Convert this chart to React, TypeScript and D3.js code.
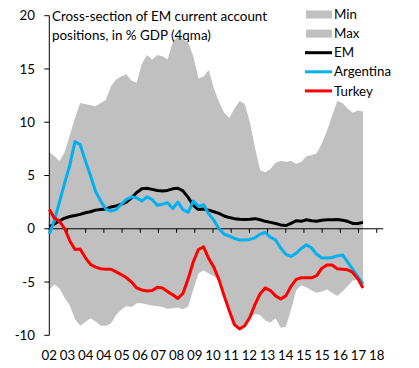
import React, { Component } from 'react';
import * as d3 from 'd3';

// Cross-section of EM current account positions (quarterly, 2002 - 2017)

const tickLabels = ["02","03","04","04","05","06","07","08","09","10","11","12","13","14","15","15","16","17","18"];

const maxV = [7.2,6.8,6.35,7.2,8.8,10.4,11.8,11.7,11.6,11.5,
  11.8,12.1,13.4,14.0,14.3,14.5,13.9,13.7,15.5,16.3,
  15.9,16.3,16.2,15.9,17.5,18.1,17.8,17.5,16.2,14.1,
  14.3,14.9,13.2,11.9,10.9,10.4,11.3,12.0,11.7,10.0,
  7.6,5.5,5.3,5.6,6.2,6.35,6.3,6.35,6.1,6.3,
  6.8,6.9,7.1,8.0,9.2,10.6,12.0,11.8,11.3,10.9,
  11.1,11.0];

const minV = [-5.7,-5.2,-5.6,-6.5,-7.2,-8.5,-9.1,-8.75,-8.4,-8.7,
  -9.1,-9.1,-8.9,-8.1,-7.6,-7.25,-7.35,-7.0,-7.0,-7.1,
  -7.2,-7.25,-7.35,-7.5,-7.45,-7.4,-7.55,-7.3,-5.7,-4.2,
  -3.9,-4.2,-4.45,-4.85,-6.3,-7.7,-9.0,-9.4,-9.1,-8.3,
  -8.0,-8.1,-8.6,-8.8,-8.4,-9.3,-9.2,-7.6,-5.8,-5.3,
  -5.5,-5.8,-6.0,-5.9,-5.7,-6.0,-6.3,-5.9,-5.4,-4.85,
  -4.8,-5.55];

const em = [0.2,0.45,0.75,1.0,1.15,1.25,1.35,1.5,1.6,1.75,
  1.8,1.85,2.05,2.15,2.3,2.5,2.9,3.4,3.75,3.8,
  3.7,3.6,3.55,3.6,3.75,3.8,3.55,2.95,2.2,1.8,
  1.85,1.75,1.6,1.45,1.2,1.05,0.95,0.9,0.87,0.9,
  0.95,0.85,0.7,0.6,0.5,0.35,0.3,0.5,0.75,0.7,
  0.85,0.75,0.7,0.8,0.85,0.85,0.87,0.8,0.7,0.5,
  0.5,0.6];

const argentina = [-0.5,0.8,2.55,4.3,6.0,8.2,7.9,6.4,5.0,3.5,
  2.6,1.85,1.65,1.8,2.3,2.75,3.0,2.9,2.6,3.0,
  2.75,2.2,2.3,2.45,1.9,2.5,1.8,1.55,2.6,2.1,
  2.25,1.4,0.8,0.0,-0.5,-0.7,-0.9,-1.05,-1.05,-1.0,
  -0.85,-0.5,-0.35,-0.8,-1.05,-1.8,-2.4,-2.6,-2.3,-1.85,
  -1.5,-1.8,-2.4,-2.75,-2.75,-2.7,-2.55,-2.45,-3.1,-3.8,
  -4.5,-5.2];

const turkey = [1.8,1.0,0.7,0.0,-1.15,-1.95,-1.9,-2.7,-3.35,-3.6,
  -3.75,-3.8,-3.8,-4.05,-4.3,-4.6,-5.0,-5.55,-5.75,-5.85,
  -5.8,-5.5,-5.55,-5.9,-6.2,-6.55,-6.05,-4.7,-3.1,-1.95,
  -1.7,-2.8,-3.6,-4.8,-6.3,-7.7,-9.0,-9.4,-9.1,-8.3,
  -7.1,-6.1,-5.55,-5.8,-6.3,-6.6,-6.3,-5.4,-4.75,-4.6,
  -4.6,-4.6,-4.4,-3.7,-3.4,-3.4,-3.75,-3.8,-3.85,-4.1,
  -4.7,-5.55];

const yTicks = [-10, -5, 0, 5, 10, 15, 20];

const FONT = "Lato, 'Open Sans', sans-serif";

class App extends Component {
  svgRef = React.createRef<SVGSVGElement>();

  componentDidMount() {
    const svg = d3.select(this.svgRef.current);
    svg.selectAll('*').remove();

    const left = 49.3, axisEnd = 383.3;

    const y = d3.scaleLinear().domain([-10, 20]).range([335.3, 15.7]);
    // label positions along the bottom
    const xTick = d3.scaleLinear().domain([0, tickLabels.length - 1]).range([left, 376.7]);
    // quarterly data positions
    const x = d3.scaleLinear().domain([0, maxV.length - 1]).range([left, 363]);

    const band = maxV.map((mx, i) => ({ i, mx, mn: minV[i] }));

    svg.append('path')
      .datum(band)
      .attr('fill', '#c0c0c0')
      .attr('d', d3.area<any>()
        .x(d => x(d.i))
        .y0(d => y(d.mn))
        .y1(d => y(d.mx)));

    // y axis
    svg.append('line')
      .attr('x1', left).attr('x2', left)
      .attr('y1', y(20)).attr('y2', y(-10))
      .attr('stroke', '#000').attr('stroke-width', 1);

    svg.selectAll('.ytick').data(yTicks).join('line')
      .attr('class', 'ytick')
      .attr('x1', left - 5).attr('x2', left)
      .attr('y1', d => y(d)).attr('y2', d => y(d))
      .attr('stroke', '#000');

    svg.selectAll('.ylab').data(yTicks).join('text')
      .attr('class', 'ylab')
      .attr('x', 35).attr('y', d => y(d))
      .attr('dy', '0.35em')
      .attr('text-anchor', 'end')
      .attr('font-family', FONT).attr('font-size', 13.3)
      .text(d => d);

    // x axis at zero
    svg.append('line')
      .attr('x1', left).attr('x2', axisEnd)
      .attr('y1', y(0)).attr('y2', y(0))
      .attr('stroke', '#000');

    svg.selectAll('.xtick').data(tickLabels).join('line')
      .attr('class', 'xtick')
      .attr('x1', (d, i) => xTick(i)).attr('x2', (d, i) => xTick(i))
      .attr('y1', y(0)).attr('y2', y(0) + 4)
      .attr('stroke', '#000');

    svg.selectAll('.xlab').data(tickLabels).join('text')
      .attr('class', 'xlab')
      .attr('x', (d, i) => xTick(i)).attr('y', 355)
      .attr('dy', '0.35em')
      .attr('text-anchor', 'middle')
      .attr('font-family', FONT).attr('font-size', 13.3)
      .text(d => d);

    const series = [
      { name: 'EM', values: em, color: '#000000' },
      { name: 'Argentina', values: argentina, color: '#00b0f0' },
      { name: 'Turkey', values: turkey, color: '#ff0000' },
    ];

    const line = d3.line<number>().x((d, i) => x(i)).y(d => y(d));

    series.forEach(s => {
      svg.append('path')
        .datum(s.values)
        .attr('fill', 'none')
        .attr('stroke', s.color)
        .attr('stroke-width', 3)
        .attr('stroke-linejoin', 'round')
        .attr('d', line);
    });

    // title
    const title = svg.append('text')
      .attr('font-family', FONT).attr('font-size', 13.4);
    title.append('tspan').attr('x', 52).attr('y', 21).text('Cross-section of EM current account');
    title.append('tspan').attr('x', 52).attr('y', 39.5).text('positions, in % GDP (4qma)');

    // legend
    const legend = [
      { name: 'Min', type: 'box', color: '#c0c0c0' },
      { name: 'Max', type: 'box', color: '#c0c0c0' },
      { name: 'EM', type: 'line', color: '#000000' },
      { name: 'Argentina', type: 'line', color: '#00b0f0' },
      { name: 'Turkey', type: 'line', color: '#ff0000' },
    ];
    const lg = svg.append('g');
    legend.forEach((d, i) => {
      const cy = 14.5 + i * 19.1;
      if (d.type === 'box') {
        lg.append('rect').attr('x', 306).attr('y', cy - 4)
          .attr('width', 26).attr('height', 8).attr('fill', d.color);
      } else {
        lg.append('line').attr('x1', 305).attr('x2', 332)
          .attr('y1', cy).attr('y2', cy)
          .attr('stroke', d.color).attr('stroke-width', 3);
      }
      lg.append('text').attr('x', 334).attr('y', cy).attr('dy', '0.35em')
        .attr('font-family', FONT).attr('font-size', 13.3)
        .text(d.name);
    });
  }

  render() {
    return (
      <svg ref={this.svgRef} width={419} height={368}
        style={{ position: 'absolute', left: 0, top: 0, background: '#fff' }} />
    );
  }
}

export default App;
